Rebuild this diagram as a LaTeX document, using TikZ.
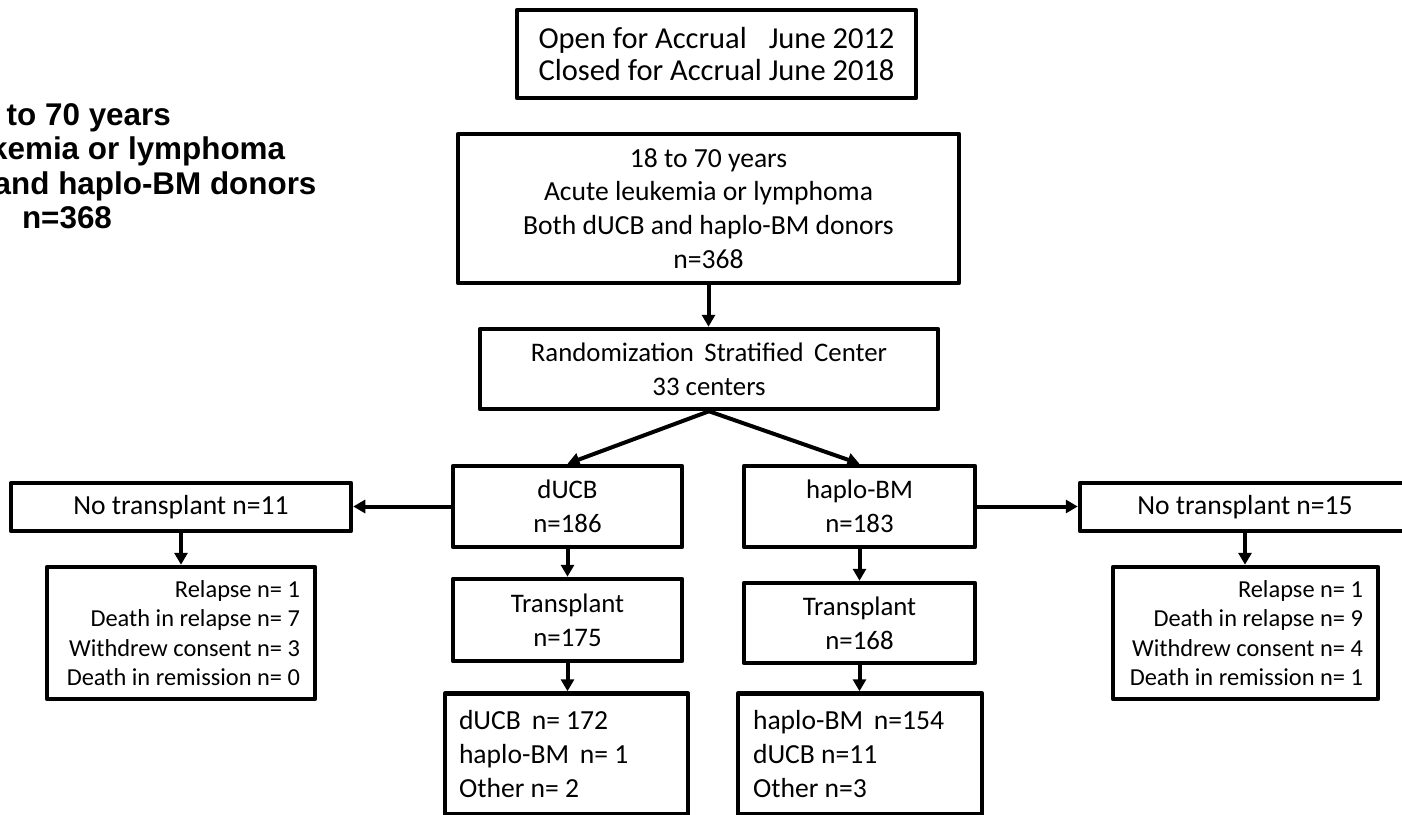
\documentclass[tikz,border=0pt]{standalone}
\usepackage{fontspec}
\setmainfont{Carlito}
\newfontfamily\arialfont{Liberation Sans}
\usetikzlibrary{arrows.meta}
\begin{document}
\begin{tikzpicture}[x=1pt,y=-1pt,
  box/.style={draw, line width=4.5pt, inner sep=0pt, align=center, line join=round},
  arr/.style={line width=4pt, -{Triangle[length=12pt,width=13pt]}},
  bigtxt/.style={font=\fontsize{27.6}{33.7}\selectfont},
  midtxt/.style={font=\fontsize{26.8}{34}\selectfont},
  smalltxt/.style={font=\fontsize{24.4}{29.5}\selectfont},
  ghost/.style={anchor=base, inner sep=0pt, font=\arialfont\bfseries\fontsize{31.4}{37}\selectfont}
]
\useasboundingbox (0,0) rectangle (1402,814);
\clip (0,0) rectangle (1402,814);

% bold text at top left (partly cut off by the left edge, as in the reference)
\node[ghost] (g1) at (67,125) {18 to 70 years};
\node[ghost] (g2) at (67,159.5) {Acute leukemia or lymphoma};
\node[ghost] (g3) at (67,194) {Both dUCB and haplo-BM donors};
\node[ghost] (g4) at (67,228.5) {n=368};

\node[box, minimum width=399pt, minimum height=88pt, align=left,
      font=\fontsize{30.5}{32}\selectfont] (open) at (716.5,54)
  {\rlap{Open for Accrual}\phantom{Closed for Accrual}\ June 2012\\Closed for Accrual\ June 2018};

\node[box, bigtxt, minimum width=501pt, minimum height=149pt] (elig) at (708.5,208.5)
  {18 to 70 years\\Acute leukemia or lymphoma\\Both dUCB and haplo-BM donors\\n=368};

\node[box, font=\fontsize{26.8}{34}\selectfont, minimum width=458pt, minimum height=80pt] (rand) at (709,369)
  {Randomization\ \,Stratified\ \,Center\\33 centers};

\node[box, midtxt, minimum width=229pt, minimum height=81pt] (ducb) at (567.5,506.5) {dUCB\\n=186};
\node[box, midtxt, minimum width=231pt, minimum height=81pt] (haplo) at (859.5,506.5) {haplo-BM\\n=183};

\node[box, midtxt, minimum width=229pt, minimum height=82pt] (tl) at (567.5,620) {Transplant\\n=175};
\node[box, midtxt, minimum width=231pt, minimum height=80pt] (tr) at (859.5,623) {Transplant\\n=168};

\node[box, bigtxt, minimum width=243pt, minimum height=121pt, text width=215pt, align=flush left] (rl) at (566.5,754)
  {dUCB\ \,n= 172\\haplo-BM\ \,n= 1\\Other n= 2};
\node[box, bigtxt, minimum width=244pt, minimum height=121pt, text width=214pt, align=flush left] (rr) at (860,754)
  {haplo-BM\ \,n=154\\dUCB n=11\\Other n=3};

\node[box, bigtxt, minimum width=340pt, minimum height=48pt] (ntl) at (181,507) {No transplant n=11};
\node[box, bigtxt, minimum width=330pt, minimum height=48pt] (ntr) at (1245,507) {No transplant n=15};

\node[box, smalltxt, minimum width=268pt, minimum height=132pt, text width=238pt, align=flush right] (rell) at (181,633)
  {Relapse n= 1\\Death in relapse n= 7\\Withdrew consent n= 3\\Death in remission n= 0};
\node[box, smalltxt, minimum width=265pt, minimum height=132pt, text width=235pt, align=flush right] (relr) at (1245.5,633)
  {Relapse n= 1\\Death in relapse n= 9\\Withdrew consent n= 4\\Death in remission n= 1};

\draw[arr] (elig.south) -- (elig.south |- rand.north);
\draw[arr] (rand.south) -- (ducb.north);
\draw[arr] (rand.south) -- (haplo.north);
\draw[arr] (ducb.west) -- (ducb.west -| ntl.east);
\draw[arr] (haplo.east) -- (haplo.east -| ntr.west);
\draw[arr] (ntl.south) -- (ntl.south |- rell.north);
\draw[arr] (ntr.south) -- (ntr.south |- relr.north);
\draw[arr] (ducb.south) -- (ducb.south |- tl.north);
\draw[arr] (tl.south) -- (tl.south |- rl.north);
\draw[arr] (haplo.south) -- (haplo.south |- tr.north);
\draw[arr] (tr.south) -- (tr.south |- rr.north);
\end{tikzpicture}
\end{document}
